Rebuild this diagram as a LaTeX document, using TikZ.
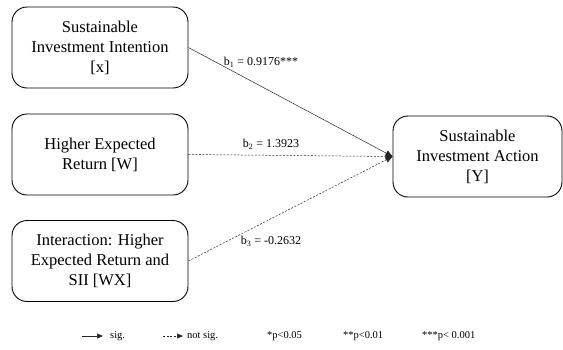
\documentclass[tikz,border=0pt]{standalone}
\usepackage{fontspec}
\setmainfont{Liberation Serif}
\usetikzlibrary{arrows.meta}
\begin{document}
\begin{tikzpicture}[x=1pt,y=-1pt,
  var/.style={draw, rounded corners=15pt, line width=0.9pt, minimum width=176pt,
    minimum height=81pt, align=center, inner sep=0pt,
    font=\fontsize{16.5}{20}\selectfont},
  link/.style={line width=0.5pt, draw=black!85, -{Triangle[length=7pt,width=6pt]}},
  nosig/.style={dash pattern=on 2pt off 1.5pt},
  coef/.style={inner sep=1pt, font=\fontsize{12}{14}\selectfont},
  legendtext/.style={anchor=west, inner sep=0pt, font=\fontsize{10.5}{12}\selectfont}]
\useasboundingbox (0,0) rectangle (563,349);

% variables
\node[var] (X)  at (100,47.5) {Sustainable\\Investment Intention\\{[x]}};
\node[var] (W)  at (100,154.5) {Higher Expected\\Return [W]};
\node[var] (WX) at (100,261) {Interaction: Higher\\Expected Return and\\SII [WX]};
\node[var, minimum width=169pt] (Y) at (477.5,156.5) {Sustainable\\Investment Action\\{[Y]}};

% paths
\draw[link] (X.east) -- (Y.west);
\draw[link, nosig] (W.east) -- (Y.west);
\draw[link, nosig] (WX.east) -- (Y.west);

% coefficients
\node[coef] (b1) at (261,62)  {b\textsubscript{1} = 0.9176***};
\node[coef] (b2) at (271,144) {b\textsubscript{2} = 1.3923};
\node[coef] (b3) at (271,241) {b\textsubscript{3} = -0.2632};

% legend
\coordinate (s0) at (82,336);
\coordinate (s1) at (103,336);
\coordinate (n0) at (163,336);
\coordinate (n1) at (183,336);
\draw[link, line width=0.6pt, -{Triangle[length=6pt,width=5pt]}] (s0) -- (s1);
\draw[link, nosig, line width=0.6pt, -{Triangle[length=6pt,width=5pt]}] (n0) -- (n1);
\node[legendtext] (lsig) at (110,336) {sig.};
\node[legendtext] (lns)  at (187,336) {not sig.};
\node[legendtext] (p1) at (267,336) {*p<0.05};
\node[legendtext] (p2) at (343,336) {**p<0.01};
\node[legendtext] (p3) at (422,336) {***p< 0.001};
\end{tikzpicture}
\end{document}
